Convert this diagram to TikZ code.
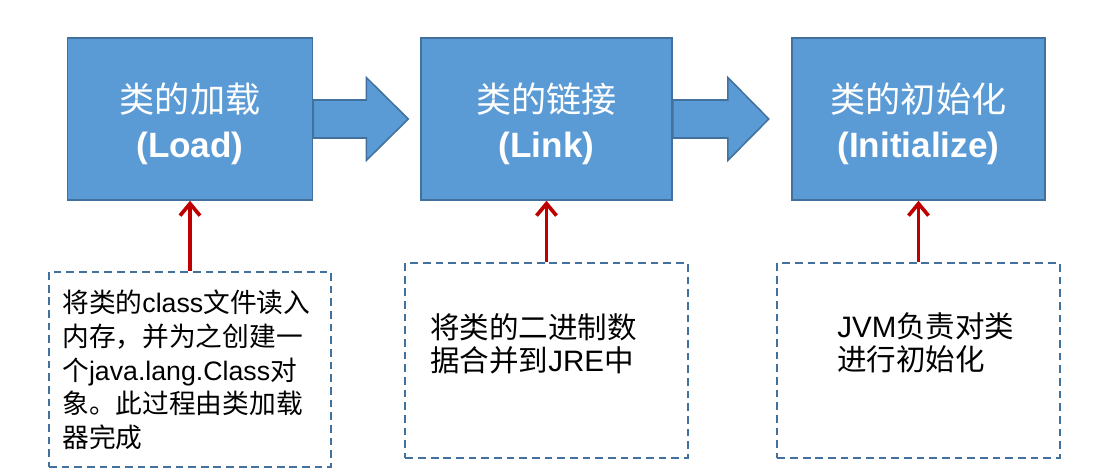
\documentclass[tikz,border=0pt]{standalone}
\usepackage{fontspec}
\setmainfont{Liberation Sans}
\newfontfamily\cjk{Noto Sans CJK SC}
\usepackage{tikz}
\usetikzlibrary{arrows.meta}
\usepackage{xcolor}
\definecolor{stageblue}{RGB}{91,155,213}
\definecolor{stageedge}{RGB}{65,113,156}
\definecolor{hintred}{RGB}{192,0,0}

\begin{document}
\begin{tikzpicture}[x=0.025cm,y=-0.025cm,
  stage/.style={draw=stageedge,fill=stageblue,line width=1.1pt,minimum height=4.05cm},
  stagetitle/.style={text=white,align=center,yshift=-0.13cm,font=\fontsize{25pt}{32pt}\selectfont},
  flow/.style={draw=stageedge,fill=stageblue,line width=1.1pt,line join=miter},
  note/.style={draw=stageedge,line width=1.4pt,dash pattern=on 5.5pt off 3.5pt,minimum width=7.05cm,minimum height=4.875cm},
  notetext/.style={anchor=west,align=left,inner sep=0pt},
  hint/.style={draw=hintred,line width=2.6pt,-{Straight Barb[length=3mm,width=5mm]}}]
\useasboundingbox (0,0) rectangle (1098,471);
\node[stage,minimum width=6.125cm] (load) at (190,119) {};
\node[stage,minimum width=6.275cm] (link) at (546.5,119) {};
\node[stage,minimum width=6.325cm] (init) at (918.5,119) {};
\node[stagetitle] (loadtitle) at (load.center) {{\cjk 类的加载}\\\textbf{(Load)}};
\node[stagetitle] (linktitle) at (link.center) {{\cjk 类的链接}\\\textbf{(Link)}};
\node[stagetitle] (inittitle) at (init.center) {{\cjk 类的初始化}\\\textbf{(Initialize)}};
\draw[flow] (load.east) ++(0,-19) -- ++(53,0) -- ++(0,-22.5) -- ++(42,41.5) -- ++(-42,41.5) -- ++(0,-22.5) -- ++(-53,0) -- cycle;
\draw[flow] (link.east) ++(0,-19) -- ++(55,0) -- ++(0,-22.5) -- ++(41,41.5) -- ++(-41,41.5) -- ++(0,-22.5) -- ++(-55,0) -- cycle;
\node[note] (loadnote) at (190,369.5) {};
\node[note] (linknote) at (546.5,360.5) {};
\node[note] (initnote) at (918.5,360.5) {};
\node[notetext,font=\fontsize{19pt}{24pt}\selectfont] (loadtext) at (62,370) {{\cjk 将类的}class{\cjk 文件读入}\\{\cjk 内存，并为之创建一}\\{\cjk 个}java.lang.Class{\cjk 对}\\{\cjk 象。此过程由类加载}\\{\cjk 器完成}};
\node[notetext,font=\fontsize{21pt}{23.5pt}\selectfont] (linktext) at (430,343.5) {{\cjk 将类的二进制数}\\{\cjk 据合并到}JRE{\cjk 中}};
\node[notetext,font=\fontsize{21pt}{23.5pt}\selectfont] (inittext) at (837,342.5) {JVM{\cjk 负责对类}\\{\cjk 进行初始化}};
\draw[hint] (loadnote.north) -- (load.south);
\draw[hint] (linknote.north) -- (link.south);
\draw[hint] (initnote.north) -- (init.south);
\end{tikzpicture}
\end{document}
